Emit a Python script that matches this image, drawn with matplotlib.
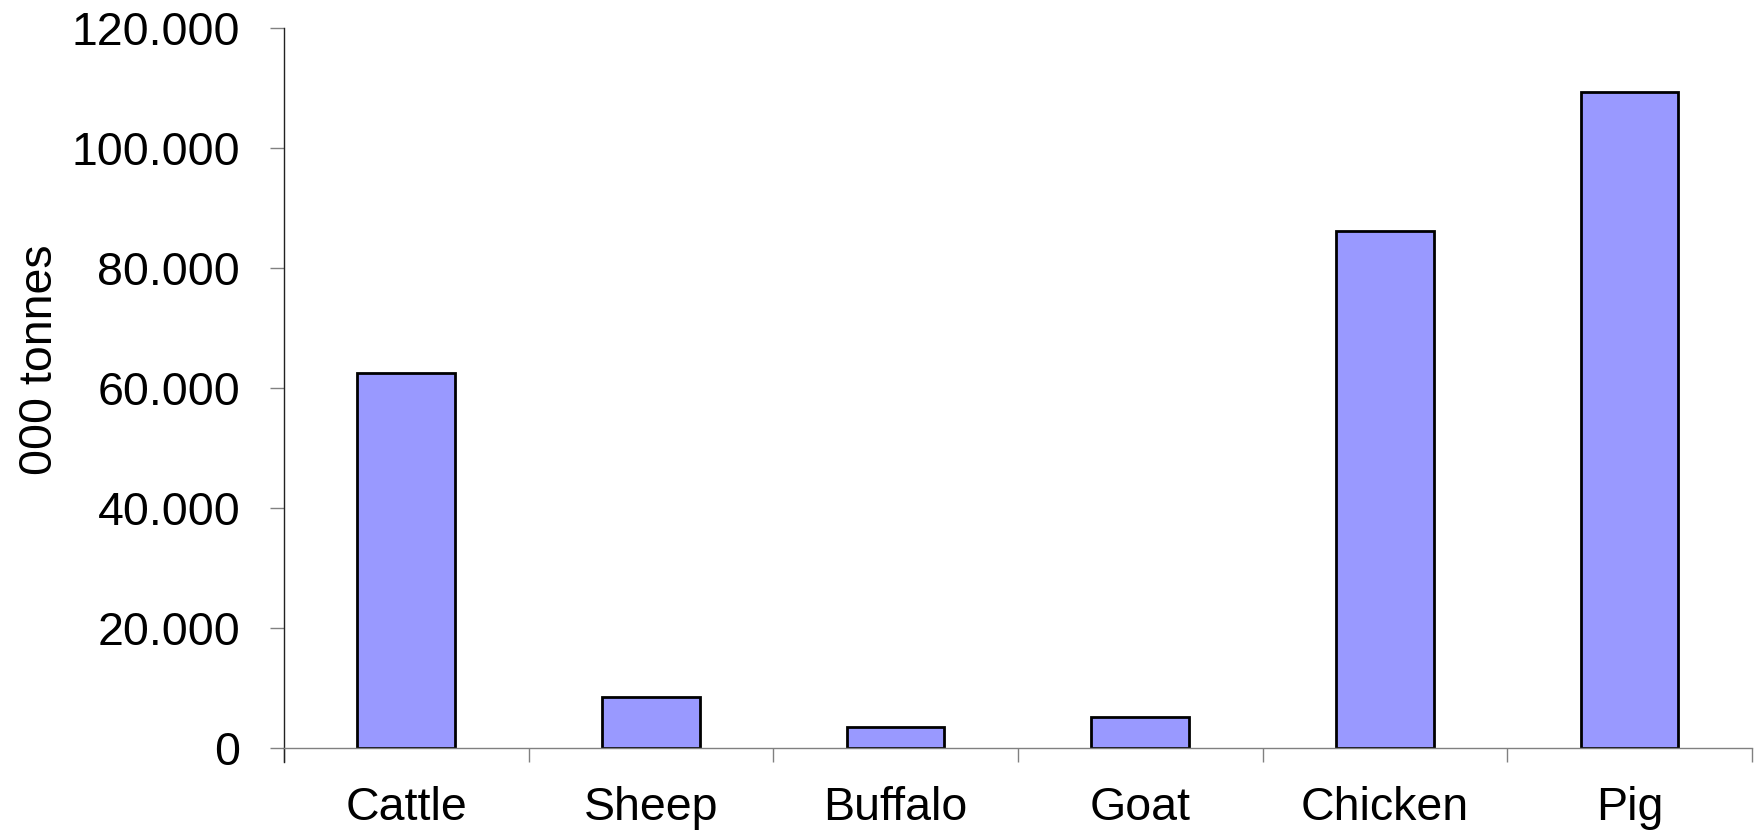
import matplotlib
matplotlib.use('Agg')
import matplotlib.pyplot as plt
from matplotlib.ticker import FuncFormatter, MultipleLocator

# meat production by animal, thousand tonnes
animals = ['Cattle', 'Sheep', 'Buffalo', 'Goat', 'Chicken', 'Pig']
production = [62500, 8550, 3450, 5170, 86150, 109400]

plt.rcParams['font.family'] = ['Liberation Sans', 'DejaVu Sans']
FS = 33.5

fig = plt.figure(figsize=(17.58, 8.33), dpi=100)
ax = fig.add_axes([0.1615, 0.102, 0.835, 0.8645])

x = range(len(animals))
ax.bar(x, production, width=0.4, color='#9999ff', edgecolor='black', linewidth=2.0)

ax.set_xlim(-0.5, len(animals) - 0.5)
ax.set_ylim(0, 120000)

# ticks between the categories, labels in the middle
ax.set_xticks([i - 0.5 for i in range(len(animals) + 1)])
ax.set_xticklabels([])
ax.set_xticks(list(x), minor=True)
ax.set_xticklabels(animals, minor=True)
ax.tick_params(axis='x', which='major', direction='out', length=10, width=1, color='#808080')
ax.tick_params(axis='x', which='minor', length=0, pad=27.5, labelsize=FS)

ax.yaxis.set_major_locator(MultipleLocator(20000))
ax.yaxis.set_major_formatter(FuncFormatter(
    lambda v, p: '0' if v == 0 else f'{v:,.0f}'.replace(',', '.')))
ax.tick_params(axis='y', direction='out', length=10, width=1, color='#808080',
               pad=21.5, labelsize=FS)

ax.set_ylabel('000 tonnes', fontsize=FS)
ax.yaxis.set_label_coords(-0.151, 0.539)

for side in ['top', 'right']:
    ax.spines[side].set_visible(False)
ax.spines['left'].set_color('#222222')
ax.spines['bottom'].set_color('#808080')
ax.spines['left'].set_linewidth(1)
ax.spines['bottom'].set_linewidth(1)
ax.spines['left'].set_bounds(-2400, 120000)

plt.savefig('out.png', dpi=100)
